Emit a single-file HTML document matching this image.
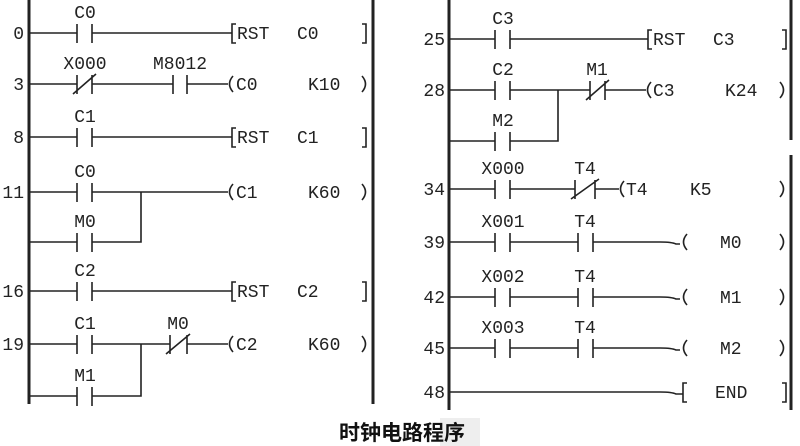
<!DOCTYPE html>
<html><head><meta charset="utf-8"><style>
html,body{margin:0;padding:0;background:#fff;}
svg{display:block}
text{font-family:"Liberation Mono",monospace;font-size:18px;fill:#222;}
.n{text-anchor:end}
.c{text-anchor:middle}
.cap{font-family:"Liberation Sans","Noto Sans CJK SC",sans-serif;font-size:21px;font-weight:bold;fill:#111}
</style></head><body>
<svg width="800" height="446" viewBox="0 0 800 446" xmlns="http://www.w3.org/2000/svg">
<rect x="0" y="0" width="800" height="446" fill="#fff"/>
<rect x="440" y="418" width="40" height="28" fill="#eee"/>
<g stroke="#222" stroke-width="3" fill="none">
<line x1="29" y1="0" x2="29" y2="404"/>
<line x1="373" y1="0" x2="373" y2="404"/>
<line x1="449" y1="0" x2="449" y2="410"/>
<line x1="791" y1="0" x2="791" y2="140"/>
<line x1="791" y1="155" x2="791" y2="410"/>
</g>
<g stroke="#222" stroke-width="1.6" fill="none">
<path d="M29 33H77M92 33H232M77 24V43M92 24V43"/>
<path d="M236 24H232V43H236M362 24H366V43H362"/>
<path d="M29 84H77M92 84H173M187 84H228M77 75V94M92 75V94M73 94L96 74M173 75V94M187 75V94"/>
<path d="M233 76Q226 84 233 92M362 76Q369 84 362 92"/>
<path d="M29 137H77M92 137H232M77 128V147M92 128V147"/>
<path d="M236 128H232V147H236M362 128H366V147H362"/>
<path d="M29 192H77M92 192H228M77 183V202M92 183V202"/>
<path d="M233 184Q226 192 233 200M362 184Q369 192 362 200"/>
<path d="M29 242H77M92 242H141V192M77 233V252M92 233V252"/>
<path d="M29 291H77M92 291H232M77 282V301M92 282V301"/>
<path d="M236 282H232V301H236M362 282H366V301H362"/>
<path d="M29 344H77M92 344H170M187 344H228M77 335V354M92 335V354M170 335V354M187 335V354M166 354L190 334"/>
<path d="M233 336Q226 344 233 352M362 336Q369 344 362 352"/>
<path d="M29 396H77M92 396H141V344M77 387V406M92 387V406"/>
<path d="M449 39H495M510 39H648M495 30V49M510 30V49"/>
<path d="M652 30H648V49H652M782 30H786V49H782"/>
<path d="M449 90H495M510 90H590M605 90H646M495 81V100M510 81V100M590 81V100M605 81V100M586 100L609 80"/>
<path d="M651 82Q644 90 651 98M780 82Q787 90 780 98"/>
<path d="M449 141H495M510 141H558V90M495 132V151M510 132V151"/>
<path d="M449 189H495M510 189H575M595 189H619M495 180V199M510 180V199M575 180V199M595 180V199M571 199L599 179"/>
<path d="M624 181Q617 189 624 197M780 181Q787 189 780 197"/>
<path d="M449 242H495M510 242H578M593 242H660Q672 242 676 244H680M495 233V252M510 233V252M578 233V252M593 233V252"/>
<path d="M687 234Q680 242 687 250M780 234Q787 242 780 250"/>
<path d="M449 297H495M510 297H578M593 297H660Q672 297 676 299H680M495 288V307M510 288V307M578 288V307M593 288V307"/>
<path d="M687 289Q680 297 687 305M780 289Q787 297 780 305"/>
<path d="M449 348H495M510 348H578M593 348H660Q672 348 676 350H680M495 339V358M510 339V358M578 339V358M593 339V358"/>
<path d="M687 340Q680 348 687 356M780 340Q787 348 780 356"/>
<path d="M449 392H660Q672 392 676 394H683"/>
<path d="M687 383H683V402H687M782 383H786V402H782"/>
</g>
<text class="n" x="24" y="39">0</text>
<text class="n" x="24" y="90">3</text>
<text class="n" x="24" y="143">8</text>
<text class="n" x="24" y="198">11</text>
<text class="n" x="24" y="297">16</text>
<text class="n" x="24" y="350">19</text>
<text class="n" x="445" y="45">25</text>
<text class="n" x="445" y="96">28</text>
<text class="n" x="445" y="195">34</text>
<text class="n" x="445" y="248">39</text>
<text class="n" x="445" y="303">42</text>
<text class="n" x="445" y="354">45</text>
<text class="n" x="445" y="398">48</text>
<text class="c" x="85" y="18">C0</text>
<text class="c" x="85" y="69">X000</text>
<text class="c" x="180" y="69">M8012</text>
<text class="c" x="85" y="122">C1</text>
<text class="c" x="85" y="177">C0</text>
<text class="c" x="85" y="227">M0</text>
<text class="c" x="85" y="276">C2</text>
<text class="c" x="85" y="329">C1</text>
<text class="c" x="178" y="329">M0</text>
<text class="c" x="85" y="381">M1</text>
<text class="c" x="503" y="24">C3</text>
<text class="c" x="503" y="75">C2</text>
<text class="c" x="597" y="75">M1</text>
<text class="c" x="503" y="126">M2</text>
<text class="c" x="503" y="174">X000</text>
<text class="c" x="585" y="174">T4</text>
<text class="c" x="503" y="227">X001</text>
<text class="c" x="585" y="227">T4</text>
<text class="c" x="503" y="282">X002</text>
<text class="c" x="585" y="282">T4</text>
<text class="c" x="503" y="333">X003</text>
<text class="c" x="585" y="333">T4</text>
<text x="237" y="39">RST</text><text x="297" y="39">C0</text>
<text x="236" y="90">C0</text><text x="308" y="90">K10</text>
<text x="237" y="143">RST</text><text x="297" y="143">C1</text>
<text x="236" y="198">C1</text><text x="308" y="198">K60</text>
<text x="237" y="297">RST</text><text x="297" y="297">C2</text>
<text x="236" y="350">C2</text><text x="308" y="350">K60</text>
<text x="653" y="45">RST</text><text x="713" y="45">C3</text>
<text x="653" y="96">C3</text><text x="725" y="96">K24</text>
<text x="626" y="195">T4</text><text x="690" y="195">K5</text>
<text x="720" y="248">M0</text>
<text x="720" y="303">M1</text>
<text x="720" y="354">M2</text>
<text x="715" y="398">END</text>
<text class="cap" x="339" y="440">时钟电路程序</text>
</svg>
</body></html>
